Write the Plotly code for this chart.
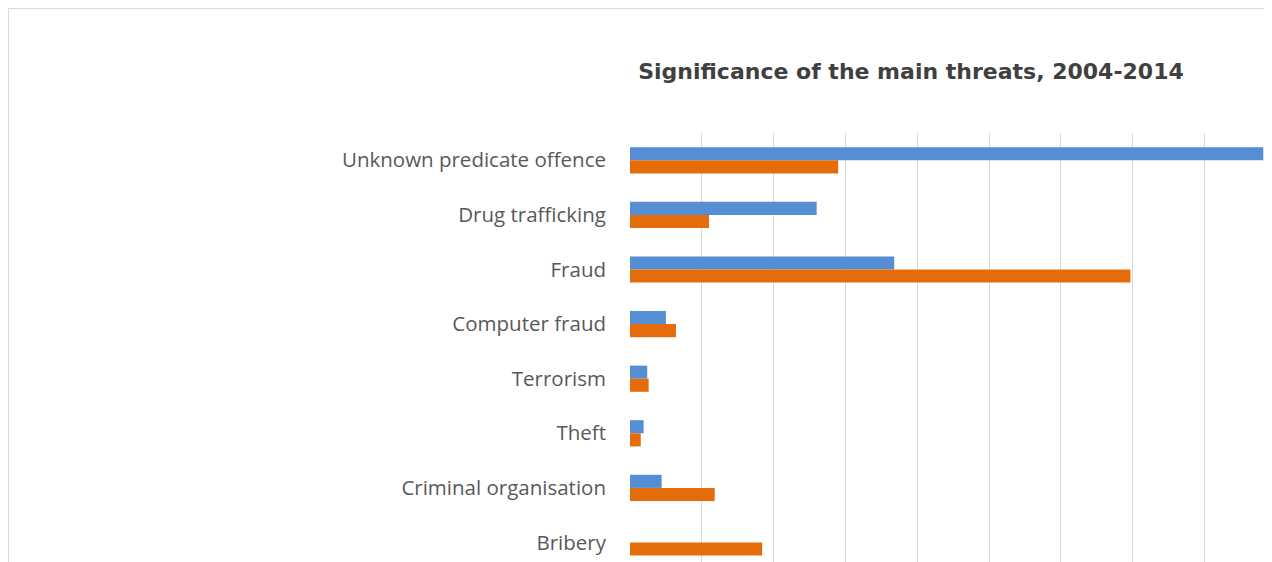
import plotly.graph_objects as go

categories = ["Unknown predicate offence", "Drug trafficking", "Fraud", "Computer fraud",
              "Terrorism", "Theft", "Criminal organisation", "Bribery"]
series_a = [8.82, 2.60, 3.68, 0.50, 0.24, 0.19, 0.44, 0.0]
series_b = [2.90, 1.10, 6.97, 0.64, 0.26, 0.15, 1.18, 1.84]

OFF = 8  # page body margin
W, H = 1272 - OFF, 562 - OFF
L, T = 630 - OFF, 133 - OFF

fig = go.Figure()
fig.add_trace(go.Bar(y=categories, x=series_a, orientation="h", name="A",
                     marker=dict(color="#558ED5", line=dict(width=0))))
fig.add_trace(go.Bar(y=categories, x=series_b, orientation="h", name="B",
                     marker=dict(color="#E46C0A", line=dict(width=0))))

pw = W - L
ph = H - T
def px_x(p):
    return (p - OFF - L) / pw
def px_y(p):
    return (H - (p - OFF)) / ph

fig.update_layout(
    width=W, height=H,
    margin=dict(l=L, r=0, t=T, b=0, autoexpand=False),
    paper_bgcolor="white", plot_bgcolor="white",
    barmode="group", bargap=0.52, bargroupgap=0,
    showlegend=False,
    title=dict(text="<b>Significance of the main threats, 2004-2014</b>",
               x=(911 - OFF) / W, xanchor="center", xref="container",
               y=1 - (71 - OFF) / H, yanchor="middle", yref="container",
               font=dict(family="DejaVu Sans", size=22, color="#404040")),
    xaxis=dict(range=[0, pw / 71.8], dtick=1, tick0=0, showgrid=True,
               gridcolor="#D9D9D9", gridwidth=1, zeroline=False,
               showticklabels=False, showline=False, fixedrange=True),
    yaxis=dict(categoryorder="array", categoryarray=categories,
               range=[-0.5 + ph / 54.6, -0.5], showgrid=False, zeroline=False,
               showline=False, ticks="", ticklabelstandoff=23,
               tickfont=dict(family="Open Sans", size=20.5, color="#595959")),
    shapes=[dict(type="rect", xref="paper", yref="paper",
                 x0=px_x(8.5), x1=px_x(1300), y0=px_y(620), y1=px_y(8.5),
                 line=dict(color="#D9D9D9", width=1), fillcolor="rgba(0,0,0,0)",
                 layer="below")],
)

fig.write_html("out.html")
